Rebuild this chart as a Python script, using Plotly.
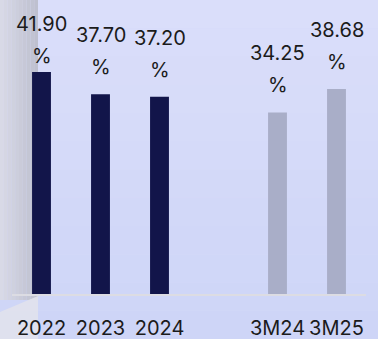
import plotly.graph_objects as go

categories = ["2022", "2023", "2024", "3M24", "3M25"]
values = [41.90, 37.70, 37.20, 34.25, 38.68]
labels = ["41.90", "37.70", "37.20", "34.25", "38.68"]
annual = ["2022", "2023", "2024"]
quarterly = ["3M24", "3M25"]
spacer = " "

DARK = "#12154a"
LIGHT = "#a9aec8"
TEXT = "#1b1b1b"
FONT = "Inter"

axis_order = annual + [spacer] + quarterly

# pixel offsets of value labels above the bar tops (first one is clamped by the top edge)
pct_shift = [16, 27, 27, 27, 27]
num_gap = 32

fig = go.Figure()
fig.add_trace(go.Bar(
    x=[c for c in categories if c in annual],
    y=[v for c, v in zip(categories, values) if c in annual],
    marker=dict(color=DARK, line=dict(width=0)),
    width=0.32, hoverinfo="skip",
))
fig.add_trace(go.Bar(
    x=[spacer], y=[None], hoverinfo="skip", showlegend=False,
))
fig.add_trace(go.Bar(
    x=[c for c in categories if c in quarterly],
    y=[v for c, v in zip(categories, values) if c in quarterly],
    marker=dict(color=LIGHT, line=dict(width=0)),
    width=0.32, hoverinfo="skip",
))

for i, (c, v, lab) in enumerate(zip(categories, values, labels)):
    xi = axis_order.index(c)
    fig.add_annotation(x=xi, y=v, text=lab, showarrow=False, xanchor="center",
                       yanchor="middle", yshift=pct_shift[i] + num_gap,
                       font=dict(family=FONT, size=20, color=TEXT))
    fig.add_annotation(x=xi, y=v, text="%", showarrow=False, xanchor="center",
                       yanchor="middle", yshift=pct_shift[i],
                       font=dict(family=FONT, size=20, color=TEXT))

# background: lavender vertical gradient + grey panel at left edge
L, T, B, H, W = 12, 10, 45, 339, 378
pw, ph = W - 24, H - T - B
def px(x):
    return (x - L) / pw
def py(y):
    return (H - B - y) / ph

shapes = []
n = 12
top_c = (218, 222, 250)
bot_c = (206, 213, 247)
for k in range(n):
    f = k / (n - 1)
    col = tuple(round(top_c[j] + (bot_c[j] - top_c[j]) * f) for j in range(3))
    shapes.append(dict(type="rect", xref="paper", yref="paper", layer="below",
                       x0=px(0), x1=px(W), y0=py(H * (k + 1) / n), y1=py(H * k / n),
                       fillcolor="rgb(%d,%d,%d)" % col, line=dict(width=0)))
m = 10
left_c = (216, 217, 230)
right_c = (190, 192, 207)
for k in range(m):
    f = k / (m - 1)
    col = tuple(round(left_c[j] + (right_c[j] - left_c[j]) * f) for j in range(3))
    shapes.append(dict(type="rect", xref="paper", yref="paper", layer="below",
                       x0=px(38 * k / m), x1=px(38 * (k + 1) / m), y0=py(300), y1=py(0),
                       fillcolor="rgb(%d,%d,%d)" % col, line=dict(width=0)))
shapes.append(dict(type="path", xref="paper", yref="paper", layer="below",
                   path="M %f,%f L %f,%f L %f,%f L %f,%f Z" % (
                       px(0), py(312), px(38), py(296), px(38), py(H), px(0), py(H)),
                   fillcolor="rgba(225,226,236,0.9)", line=dict(width=0)))

fig.update_layout(
    width=W, height=H,
    margin=dict(l=L, r=12, t=T, b=B, pad=0, autoexpand=False),
    paper_bgcolor="#d7dbf8",
    plot_bgcolor="rgba(0,0,0,0)",
    showlegend=False,
    barmode="overlay",
    shapes=shapes,
    font=dict(family=FONT, color=TEXT),
    xaxis=dict(
        type="category", categoryorder="array", categoryarray=axis_order,
        range=[-0.5, 5.5], showgrid=False, zeroline=False, automargin=False,
        showline=True, linecolor="#dcdce3", linewidth=1.5,
        ticks="", ticklabelstandoff=15,
        tickfont=dict(family=FONT, size=20, color=TEXT),
    ),
    yaxis=dict(range=[0, 284 / 5.3], visible=False, showgrid=False, zeroline=False,
               automargin=False),
)

fig.write_html("out.html", config={"displayModeBar": False},
               post_script="document.body.style.margin='0';document.body.style.padding='0';")
